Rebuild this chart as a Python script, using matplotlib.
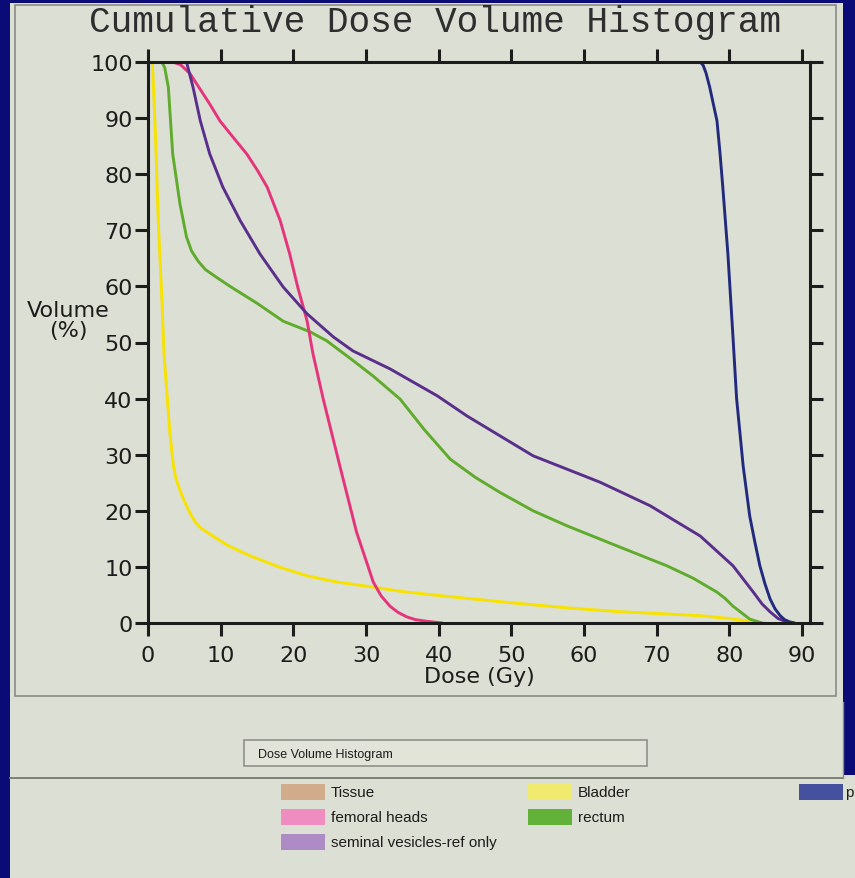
import matplotlib
matplotlib.use("Agg")
import matplotlib.pyplot as plt
from matplotlib.patches import Rectangle, Polygon
from matplotlib.lines import Line2D

W, H = 855, 879

# curves (dose in Gy, volume in %)
bladder_dose = [0, 0.6, 1.0, 1.4, 1.9, 2.2, 2.6, 3.0, 3.5, 3.8, 4.3, 4.8, 5.3, 5.9, 6.5,
                7.2, 8.1, 11, 14, 18, 21.9, 26, 31, 35, 40, 50, 57.7, 65, 70, 76, 80,
                83.3, 85]
bladder_vol = [100, 100, 88, 72, 58, 48, 41, 34, 28, 26, 24, 22.3, 20.9, 19.3, 18,
               17.0, 16.2, 13.8, 12, 10, 8.4, 7.3, 6.4, 5.6, 4.9, 3.6, 2.7, 2.0, 1.7,
               1.3, 0.8, 0.2, 0]

rectum_dose = [0, 1.9, 2.3, 2.8, 3.4, 4.4, 5.3, 6.0, 6.9, 7.9, 9, 11.3, 15, 18.6, 22.3,
               24.6, 28, 31, 34.7, 38, 41.6, 45, 48.4, 53, 57.7, 65, 71.4, 75, 78.3,
               79.4, 80.5, 82.8, 84.5]
rectum_vol = [100, 100, 99, 95.5, 83.6, 74.7, 68.8, 66.3, 64.5, 63, 62, 60, 57, 53.8,
              51.9, 50.3, 47, 44, 39.9, 34.5, 29.2, 26, 23.3, 20, 17.3, 13.5, 10.2, 8,
              5.5, 4.4, 3.0, 0.7, 0]

femoral_dose = [0, 3.4, 4.5, 5.8, 8.5, 9.9, 11.7, 13.6, 15.1, 16.4, 18.2, 19.5, 20.6,
                21.9, 22.7, 24.1, 26.4, 28.7, 31, 32.1, 33.3, 34.4, 35.6, 36.8, 38.4, 40.5]
femoral_vol = [100, 100, 99.5, 97.9, 92.5, 89.5, 86.6, 83.6, 80.6, 77.7, 71.7, 65.8,
               59.9, 53.8, 48, 40, 28, 16.2, 7.3, 4.8, 3, 1.9, 1.1, 0.6, 0.3, 0]

seminal_dose = [0, 5.3, 6.2, 7.2, 8.5, 10.3, 12.7, 15.4, 18.6, 21.9, 25.5, 28.2, 33.3,
                39.8, 43.9, 53, 62.2, 69.1, 76, 80.5, 83.3, 84.5, 85.6, 86.7, 87.9, 88.5]
seminal_vol = [100, 100, 95.5, 89.5, 83.6, 77.7, 71.7, 65.8, 59.9, 55.1, 51, 48.5, 45.3,
               40.5, 36.9, 29.8, 25.1, 20.9, 15.5, 10.2, 5.5, 3.4, 2, 0.8, 0.2, 0]

prostate_dose = [0, 76, 76.4, 76.8, 77.3, 77.8, 78.3, 78.7, 79.1, 79.8, 80.5, 81, 81.9,
                 82.8, 83.5, 84.2, 84.9, 85.6, 86.3, 87, 87.6, 88.3, 89]
prostate_vol = [100, 100, 99.4, 98, 95.5, 92.5, 89.5, 84, 77.7, 65.8, 51, 40, 28, 19.1,
                14.5, 10.2, 7, 4.3, 2.5, 1.3, 0.6, 0.2, 0]

x_ticks = [0, 10, 20, 30, 40, 50, 60, 70, 80, 90]
y_ticks = [0, 10, 20, 30, 40, 50, 60, 70, 80, 90, 100]

# the last legend entry is cut off at the right edge of the scan
legend_labels = ["Tissue", "femoral heads", "seminal vesicles-ref only",
                 "Bladder", "rectum", "p"]
legend_colors = ["#d2aa8c", "#ef8cc0", "#ad8cc6", "#f0ea6e", "#62b23a", "#45509f"]

NAVY = "#0b0b78"
PAPER = "#dcdfd3"
INK = "#1c1c1c"


def fp(x, y):
    # pixel position -> figure fraction
    return (x / W, 1 - y / H)


fig = plt.figure(figsize=(W / 100, H / 100), dpi=100)
fig.patch.set_facecolor(NAVY)

paper = Polygon([fp(10, 4), fp(843, 4), fp(843, 776), fp(855, 776),
                 fp(855, 879), fp(10, 879)], closed=True,
                transform=fig.transFigure, facecolor=PAPER, edgecolor="none", zorder=-10)
fig.patches.append(paper)

# panel frame around the chart
x0, y0 = fp(15, 697)
x1, y1 = fp(836, 6)
fig.patches.append(Rectangle((x0, y0), x1 - x0, y1 - y0, transform=fig.transFigure,
                             facecolor="none", edgecolor="#8a8c86", lw=1.2, zorder=-5))
fig.lines.append(Line2D([fp(10, 0)[0], fp(843, 0)[0]], [fp(0, 779)[1]] * 2,
                        transform=fig.transFigure, color="#77786f", lw=1.3))
fig.lines.append(Line2D([fp(843, 0)[0]] * 2, [fp(0, 703)[1], fp(0, 779)[1]],
                        transform=fig.transFigure, color="#8a8c86", lw=1.0))

# "Dose Volume Histogram" box
bx0, by0 = fp(244, 767)
bx1, by1 = fp(647, 741)
fig.patches.append(Rectangle((bx0, by0), bx1 - bx0, by1 - by0, transform=fig.transFigure,
                             facecolor="#e2e4da", edgecolor="#8f908a", lw=1.2))
fig.text(*fp(258, 755), "Dose Volume Histogram", fontsize=9, family="Liberation Sans",
         color=INK, va="center", ha="left")

# legend rows
legend_pos = [(281, 793), (281, 818), (281, 843), (528, 793), (528, 818), (799, 793)]
text_gap = [50, 50, 50, 50, 50, 46]
for (px, py), gap, lab, col in zip(legend_pos, text_gap, legend_labels, legend_colors):
    sx, sy = fp(px, py + 8)
    ex, ey = fp(px + 44, py - 8)
    fig.patches.append(Rectangle((sx, sy), ex - sx, ey - sy, transform=fig.transFigure,
                                 facecolor=col, edgecolor="none"))
    fig.text(*fp(px + gap, py), lab, fontsize=11, family="Liberation Sans",
             color=INK, va="center", ha="left")

# title
fig.text(*fp(435, 22), "Cumulative Dose Volume Histogram", fontsize=26,
         family="Liberation Mono", color="#2e2e2e", ha="center", va="center")

ax = fig.add_axes([148 / W, 1 - 624 / H, (810 - 148) / W, (624 - 63) / H])
ax.patch.set_alpha(0)

kw = dict(lw=2.1, solid_joinstyle="round", solid_capstyle="round")
ax.plot(bladder_dose, bladder_vol, color="#f7e200", **kw)
ax.plot(rectum_dose, rectum_vol, color="#5fab2c", **kw)
ax.plot(femoral_dose, femoral_vol, color="#e5347c", **kw)
ax.plot(seminal_dose, seminal_vol, color="#5a2f8c", **kw)
ax.plot(prostate_dose, prostate_vol, color="#222a7e", **kw)

ax.set_xlim(0, 91.1)
ax.set_ylim(0, 100)
ax.set_xticks(x_ticks)
ax.set_yticks(y_ticks)
for s in ax.spines.values():
    s.set_linewidth(2.2)
    s.set_color(INK)
ax.tick_params(axis="both", which="major", direction="out", length=9.5, width=2.2,
               color=INK, labelsize=16, labelcolor=INK,
               top=True, right=True, labeltop=False, labelright=False)
ax.tick_params(axis="x", pad=6)
ax.tick_params(axis="y", pad=1.5)

ax.set_xlabel("Dose (Gy)", fontsize=16, color=INK, labelpad=1)
fig.text(*fp(68, 321), "Volume\n(%)", fontsize=16, color=INK, ha="center",
         va="center", linespacing=1.05)

fig.savefig("out.png", dpi=100, facecolor=NAVY)
